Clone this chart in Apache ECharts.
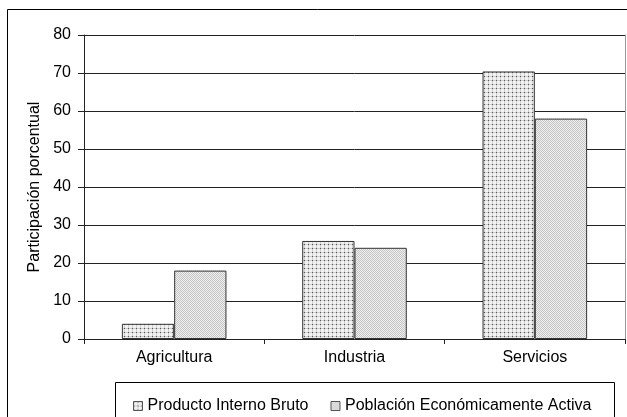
<!DOCTYPE html>
<html>
<head>
<meta charset="utf-8">
<script src="https://cdn.jsdelivr.net/npm/echarts@6/dist/echarts.min.js"></script>
<style>
  html, body { margin: 0; padding: 0; background: #fff; }
  #chart { width: 627px; height: 417px; }
</style>
</head>
<body>
<div id="chart"></div>
<script>
// Sector shares (%)
const categories = ['Agricultura', 'Industria', 'Servicios'];
const pibValues = [4, 25.8, 70.4];
const peaValues = [18, 24, 58];
const seriesNames = ['Producto Interno Bruto', 'Población Económicamente Activa'];
const yTicks = [0, 10, 20, 30, 40, 50, 60, 70, 80];

const FONT = 'Liberation Sans, Arial, sans-serif';
const FS = 16;

// Dotted fill: light lattice with a dark dot at each crossing
function dottedPattern() {
  const c = document.createElement('canvas');
  c.width = 4; c.height = 4;
  const g = c.getContext('2d');
  g.fillStyle = '#f2f2f2'; g.fillRect(0, 0, 4, 4);
  g.fillStyle = '#cfcfcf'; g.fillRect(0, 0, 4, 1); g.fillRect(0, 0, 1, 4);
  g.fillStyle = '#5a5a5a'; g.fillRect(0, 0, 1, 1);
  return c;
}
// Fine checker fill
function checkerPattern() {
  const c = document.createElement('canvas');
  c.width = 2; c.height = 2;
  const g = c.getContext('2d');
  g.fillStyle = '#eeeeee'; g.fillRect(0, 0, 2, 2);
  g.fillStyle = '#c6c6c6'; g.fillRect(0, 0, 1, 1); g.fillRect(1, 1, 1, 1);
  return c;
}
const pibFill = { image: dottedPattern(), repeat: 'repeat' };
const peaFill = { image: checkerPattern(), repeat: 'repeat' };

const chart = echarts.init(document.getElementById('chart'), null, { renderer: 'canvas' });

chart.setOption({
  backgroundColor: '#fff',
  animation: false,
  textStyle: { fontFamily: FONT },
  grid: { left: 84, top: 35, right: 2, bottom: 78, containLabel: false },
  legend: {
    left: 128, top: 393,
    itemWidth: 9, itemHeight: 9, itemGap: 22,
    icon: 'rect',
    textStyle: { fontFamily: FONT, fontSize: FS, color: '#000' },
    data: [
      { name: seriesNames[0], itemStyle: { color: pibFill, borderColor: '#555', borderWidth: 1 } },
      { name: seriesNames[1], itemStyle: { color: peaFill, borderColor: '#555', borderWidth: 1 } }
    ]
  },
  xAxis: {
    type: 'category',
    data: categories,
    axisLine: { lineStyle: { color: '#222', width: 1 } },
    axisTick: { show: true, length: 5, lineStyle: { color: '#222' } },
    axisLabel: { fontFamily: FONT, fontSize: FS, color: '#000', margin: 11 }
  },
  yAxis: [{
    type: 'value',
    min: 0, max: 80, interval: 10,
    name: 'Participación porcentual',
    nameLocation: 'middle',
    nameGap: 40,
    nameTextStyle: { fontFamily: FONT, fontSize: FS, color: '#000' },
    axisLine: { show: true, lineStyle: { color: '#222', width: 1 } },
    axisTick: { show: true, length: 6, lineStyle: { color: '#222' } },
    axisLabel: {
      fontFamily: FONT, fontSize: FS, color: '#000', margin: 13,
      formatter: v => (yTicks.indexOf(v) >= 0 ? String(v) : '')
    },
    splitLine: { show: true, lineStyle: { color: '#222', width: 1 } }
  }, {
    type: 'value',
    position: 'right',
    min: 0, max: 80, interval: 10,
    axisLine: { show: true, lineStyle: { color: '#999', width: 1 } },
    axisTick: { show: false },
    axisLabel: { show: false },
    splitLine: { show: false }
  }],
  series: [
    {
      name: seriesNames[0],
      type: 'bar',
      data: pibValues,
      barGap: '0%',
      barCategoryGap: '42%',
      itemStyle: { color: pibFill, borderColor: '#333', borderWidth: 1 }
    },
    {
      name: seriesNames[1],
      type: 'bar',
      data: peaValues,
      barGap: '0%',
      barCategoryGap: '42%',
      itemStyle: { color: peaFill, borderColor: '#333', borderWidth: 1 }
    }
  ],
  graphic: [
    // outer chart frame (left and top edges; the rest runs past the canvas)
    { type: 'polyline', silent: true, z: 100,
      shape: { points: [[7.5, 420], [7.5, 9.5], [630, 9.5]] },
      style: { stroke: '#000', lineWidth: 1, fill: null } },
    // legend box
    { type: 'rect', silent: true, z: -1,
      shape: { x: 115.5, y: 382.5, width: 499, height: 40 },
      style: { stroke: '#000', lineWidth: 1, fill: '#fff' } }
  ]
});
</script>
</body>
</html>
